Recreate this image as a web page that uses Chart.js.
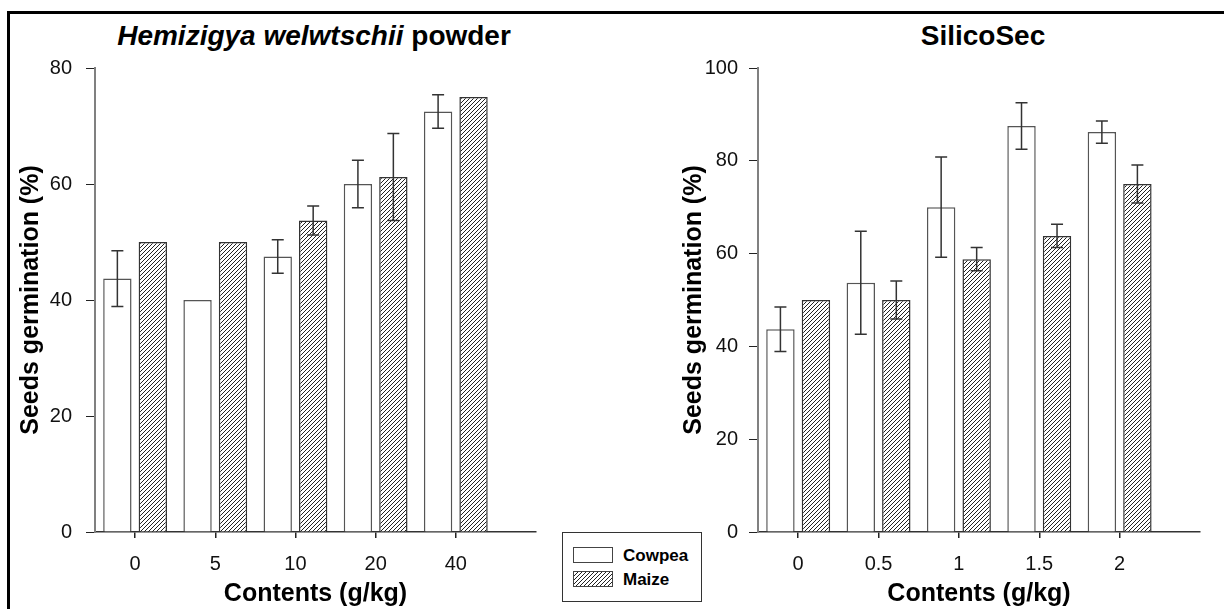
<!DOCTYPE html>
<html>
<head>
<meta charset="utf-8">
<script src="https://cdn.jsdelivr.net/npm/chart.js@4.4.1/dist/chart.umd.min.js"></script>
<style>
    html, body { margin: 0; padding: 0; background: #fff; }
    body { width: 1224px; height: 609px; position: relative; overflow: hidden; font-family: 'Liberation Sans', Arial, sans-serif; }
    canvas { position: absolute; top: 0; }
    #leftChart { left: 0; }
    #rightChart { left: 620px; }
    .frame { position: absolute; left: 7px; top: 11px; width: 1240px; height: 640px; border-top: 3px solid #000; border-left: 3px solid #000; }
    .title { position: absolute; top: 18px; font-weight: bold; font-size: 28px; color: #000; white-space: nowrap; transform: translateX(-50%); line-height: 36px; }
    .legend { position: absolute; left: 562px; top: 532px; width: 138px; height: 68px; border: 1.5px solid #333; background: #fff; z-index: 2; }
    .legend .swatch { position: absolute; left: 10px; width: 38px; height: 14px; border: 1.5px solid #444; background: #fff; }
    .legend .name { position: absolute; left: 60px; font-weight: bold; font-size: 17px; line-height: 20px; color: #000; }
</style>
</head>
<body>
<div class="frame"></div>
<div class="title" style="left:314px"><i>Hemizigya welwtschii</i> powder</div>
<div class="title" style="left:983px">SilicoSec</div>
<canvas id="leftChart" width="600" height="609"></canvas>
<canvas id="rightChart" width="604" height="609"></canvas>
<div class="legend">
    <div class="swatch" style="top:14px"></div>
    <div class="name" style="top:13px">Cowpea</div>
    <div class="swatch" id="maizeSwatch" style="top:38px"></div>
    <div class="name" style="top:37px">Maize</div>
</div>
<script>
    // Hemizigya welwtschii powder panel
    const leftLabels = ['0', '5', '10', '20', '40'];
    const leftCowpea = [43.7, 40, 47.5, 60, 72.5];
    const leftCowpeaErr = [4.8, 0, 2.9, 4.1, 2.9];
    const leftMaize = [50, 50, 53.7, 61.2, 75];
    const leftMaizeErr = [0, 0, 2.5, 7.5, 0];

    // SilicoSec panel
    const rightLabels = ['0', '0.5', '1', '1.5', '2'];
    const rightCowpea = [43.7, 53.7, 70, 87.5, 86.2];
    const rightCowpeaErr = [4.8, 11.1, 10.8, 5, 2.4];
    const rightMaize = [50, 50, 58.8, 63.8, 75];
    const rightMaizeErr = [0, 4.1, 2.5, 2.5, 4.1];

    const fontFamily = "'Liberation Sans', Arial, sans-serif";

    function makeHatchTile() {
        const tile = document.createElement('canvas');
        tile.width = 4;
        tile.height = 4;
        const g = tile.getContext('2d');
        g.fillStyle = '#fff';
        g.fillRect(0, 0, 4, 4);
        g.strokeStyle = '#222';
        g.lineWidth = 1;
        g.beginPath();
        g.moveTo(0, 4); g.lineTo(4, 0);
        g.moveTo(-1, 1); g.lineTo(1, -1);
        g.moveTo(3, 5); g.lineTo(5, 3);
        g.stroke();
        return tile;
    }

    const hatchTile = makeHatchTile();
    document.getElementById('maizeSwatch').style.background = `url(${hatchTile.toDataURL()})`;

    const errorBars = {
        id: 'errorBars',
        afterDatasetsDraw(chart) {
            const { ctx } = chart;
            const yScale = chart.scales.y;
            ctx.save();
            ctx.strokeStyle = '#333';
            ctx.lineWidth = 1.5;
            chart.data.datasets.forEach((dataset, di) => {
                const meta = chart.getDatasetMeta(di);
                meta.data.forEach((bar, i) => {
                    const err = dataset.errors[i];
                    if (!err) return;
                    const value = dataset.data[i].y;
                    const top = yScale.getPixelForValue(value + err);
                    const bottom = yScale.getPixelForValue(value - err);
                    ctx.beginPath();
                    ctx.moveTo(bar.x, top); ctx.lineTo(bar.x, bottom);
                    ctx.moveTo(bar.x - 6, top); ctx.lineTo(bar.x + 6, top);
                    ctx.moveTo(bar.x - 6, bottom); ctx.lineTo(bar.x + 6, bottom);
                    ctx.stroke();
                });
            });
            ctx.restore();
        }
    };

    function toPoints(values) {
        return values.map((v, i) => ({ x: i, y: v }));
    }

    function buildChart(canvasId, cfg) {
        const canvas = document.getElementById(canvasId);
        const pattern = canvas.getContext('2d').createPattern(hatchTile, 'repeat');

        return new Chart(canvas, {
            type: 'bar',
            data: {
                datasets: [
                    {
                        label: 'Cowpea',
                        data: toPoints(cfg.cowpea),
                        errors: cfg.cowpeaErr,
                        backgroundColor: '#fff',
                        borderColor: '#555',
                        borderWidth: 1.5,
                        categoryPercentage: 0.884,
                        barPercentage: 0.8
                    },
                    {
                        label: 'Maize',
                        data: toPoints(cfg.maize),
                        errors: cfg.maizeErr,
                        backgroundColor: pattern,
                        borderColor: '#333',
                        borderWidth: 1.5,
                        categoryPercentage: 0.884,
                        barPercentage: 0.8
                    }
                ]
            },
            options: {
                responsive: false,
                animation: false,
                layout: { padding: { top: 68, right: cfg.padRight, bottom: 0, left: 0 } },
                plugins: {
                    legend: { display: false },
                    tooltip: { enabled: false }
                },
                scales: {
                    x: {
                        type: 'linear',
                        offset: false,
                        min: -0.5,
                        max: 5,
                        afterBuildTicks: (scale) => {
                            scale.ticks = cfg.labels.map((_, i) => ({ value: i }));
                        },
                        afterFit: (scale) => { scale.height = 77; },
                        ticks: {
                            color: '#111',
                            font: { family: fontFamily, size: 20 },
                            padding: 14,
                            maxRotation: 0,
                            callback: (value) => cfg.labels[value]
                        },
                        grid: { offset: false, drawOnChartArea: false, tickLength: 6, color: '#222', lineWidth: 1.5 },
                        border: { color: '#333', width: 1.5 },
                        title: {
                            display: true,
                            text: 'Contents (g/kg)',
                            color: '#000',
                            font: { family: fontFamily, size: 25, weight: 'bold' },
                            padding: { top: 0, bottom: 0 }
                        }
                    },
                    y: {
                        min: 0,
                        max: cfg.yMax,
                        afterFit: (scale) => { scale.width = cfg.yWidth; },
                        ticks: {
                            stepSize: 20,
                            color: '#111',
                            font: { family: fontFamily, size: 20 },
                            padding: cfg.tickPad
                        },
                        grid: { drawOnChartArea: false, tickLength: 9, color: '#222', lineWidth: 1 },
                        border: { color: '#808080', width: 2 },
                        title: {
                            display: true,
                            text: 'Seeds germination (%)',
                            color: '#000',
                            font: { family: fontFamily, size: 25, weight: 'bold' },
                            padding: { top: cfg.titlePad, bottom: 0 }
                        }
                    }
                }
            },
            plugins: [errorBars]
        });
    }

    buildChart('leftChart', {
        labels: leftLabels,
        cowpea: leftCowpea,
        cowpeaErr: leftCowpeaErr,
        maize: leftMaize,
        maizeErr: leftMaizeErr,
        yMax: 80,
        yWidth: 95,
        padRight: 64,
        tickPad: 14,
        titlePad: 16
    });

    buildChart('rightChart', {
        labels: rightLabels,
        cowpea: rightCowpea,
        cowpeaErr: rightCowpeaErr,
        maize: rightMaize,
        maizeErr: rightMaizeErr,
        yMax: 100,
        yWidth: 138,
        padRight: 24,
        tickPad: 11,
        titlePad: 59
    });
</script>
</body>
</html>
